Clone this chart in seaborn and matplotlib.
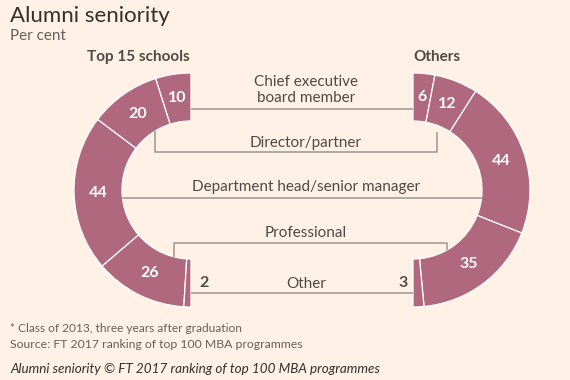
import numpy as np
import seaborn as sns
import matplotlib.pyplot as plt

sns.set_theme(style="white")
plt.rcParams['font.family'] = ['Lato', 'DejaVu Sans']

# data
levels = ["Chief executive\nboard member", "Director/partner",
          "Department head/senior manager", "Professional", "Other"]
top15 = [10, 20, 44, 26, 2]
others = [6, 12, 44, 35, 3]

bg = '#fff1e5'
ring = '#b0687f'
grey = '#a19d99'
dark = '#4f4a47'

fig = plt.figure(figsize=(5.7, 3.8), dpi=100, facecolor=bg)
ax = fig.add_axes([0, 0, 1, 1], facecolor=bg)

R, W = 117, 48
cl, cr, cy = (191, 190), (413, 190), 190

def half_ring(vals, center, counterclock):
    wedges, _ = ax.pie(vals + [sum(vals)], radius=R, center=center,
                       startangle=270, counterclock=counterclock,
                       colors=[ring] * len(vals) + ['none'],
                       wedgeprops=dict(width=W, edgecolor='white', linewidth=0.9))
    wedges[-1].set_visible(False)
    return wedges[:-1]

wl = half_ring(top15, cl, False)
wr = half_ring(others, cr, True)

ax.set_xlim(0, 570)
ax.set_ylim(380, 0)
ax.set_aspect('auto')
ax.axis('off')

# value labels inside segments
rm = R - W / 2
for wedges, vals in ((wl, top15), (wr, others)):
    for w, v in zip(wedges[:-1], vals[:-1]):
        a = np.deg2rad((w.theta1 + w.theta2) / 2)
        ax.text(w.center[0] + rm * np.cos(a), w.center[1] + rm * np.sin(a), str(v),
                ha='center', va='center', color='white', fontsize=11.5, fontweight='bold')
ax.text(199, 283, str(top15[-1]), ha='left', va='center', color=dark, fontsize=11.5, fontweight='bold')
ax.text(408, 283, str(others[-1]), ha='right', va='center', color=dark, fontsize=11.5, fontweight='bold')

# connectors
ri = R - W
lk = dict(color=grey, lw=1.2, solid_capstyle='butt')
ax.plot([cl[0], cr[0]], [109, 109], **lk)
ax.plot([155, 155, 437, 437], [cy - np.sqrt(ri**2 - 36**2), 152, 152, 132], **lk)
ax.plot([cl[0] - ri, cr[0] + ri], [198, 198], **lk)
ax.plot([174, 174, 447, 447], [cy + np.sqrt(ri**2 - 17**2), 243, 243, cy + np.sqrt(ri**2 - 34**2)], **lk)
ax.plot([cl[0], cr[0]], [293, 293], **lk)

label_y = [90, 143, 187, 233, 284]
for lab, y in zip(levels, label_y):
    ax.text(306, y, lab, ha='center', va='center', color=dark, fontsize=11,
            linespacing=1.15)

ax.text(138, 57, "Top 15 schools", ha='center', va='center', color=dark,
        fontsize=11, fontweight='bold')
ax.text(437, 57, "Others", ha='center', va='center', color=dark,
        fontsize=11, fontweight='bold')

# titles and notes
ax.text(10, 16, "Alumni seniority", ha='left', va='center', color='#33302e', fontsize=16)
ax.text(10, 36, "Per cent", ha='left', va='center', color='#66605c', fontsize=11)
ax.text(10, 328, "* Class of 2013, three years after graduation", ha='left', va='center',
        color='#66605c', fontsize=8.6)
ax.text(10, 345, "Source: FT 2017 ranking of top 100 MBA programmes", ha='left', va='center',
        color='#66605c', fontsize=8.8)
ax.text(10, 369, "Alumni seniority © FT 2017 ranking of top 100 MBA programmes", ha='left',
        va='center', color='#33302e', fontsize=9.7, fontstyle='italic')

fig.savefig('out.png', dpi=100, facecolor=bg)
